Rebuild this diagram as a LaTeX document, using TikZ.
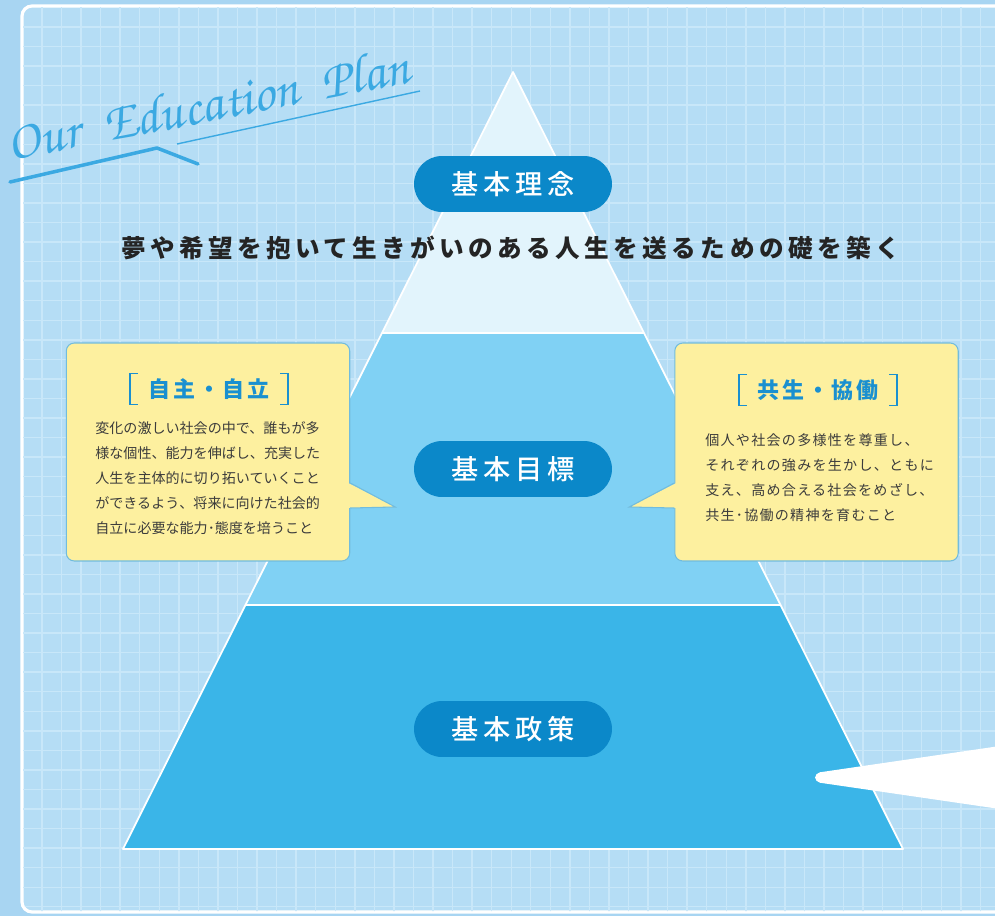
\documentclass[tikz,border=0pt]{standalone}
\usepackage{fontspec}
\setmainfont{Noto Sans CJK JP}
\newfontfamily\jpmed{Noto Sans CJK JP Medium}
\newfontfamily\handfont{texgyrechorus-mediumitalic.otf}
\usetikzlibrary{positioning,calc}

\definecolor{outerbg}{HTML}{A8D5F2}
\definecolor{panelbg}{HTML}{B5DDF5}
\definecolor{gridcol}{HTML}{C8E7F9}
\definecolor{tierone}{HTML}{E2F4FC}
\definecolor{tiertwo}{HTML}{80D1F4}
\definecolor{tierthree}{HTML}{3AB5E8}
\definecolor{pillblue}{HTML}{0B88C9}
\definecolor{notefill}{HTML}{FDF09F}
\definecolor{noteline}{HTML}{72BCDD}
\definecolor{notetitle}{HTML}{1A90D0}
\definecolor{notetext}{HTML}{3C3C3C}
\definecolor{scriptblue}{HTML}{3BA9E2}

\tikzstyle{panel} = [fill=panelbg, draw=white, line width=1.8pt, rounded corners=0.2cm]
\tikzstyle{gridline} = [gridcol, line width=0.8pt]
\tikzstyle{edge} = [white, line width=1pt, line join=round]
\tikzstyle{pill} = [rectangle, rounded corners=0.56cm, minimum width=3.96cm, minimum height=1.12cm, inner sep=0pt, fill=pillblue, text=white, font=\jpmed\fontsize{15.5}{17}\selectfont\addfontfeature{LetterSpace=17}]
\tikzstyle{motto} = [inner sep=0pt, text=black!86, font=\fontsize{14}{16}\selectfont\bfseries\addfontfeature{LetterSpace=18}]
\tikzstyle{note} = [rectangle, rounded corners=0.16cm, minimum width=5.67cm, minimum height=4.36cm, fill=notefill, draw=noteline, line width=0.6pt]
\tikzstyle{notehead} = [inner sep=0pt, text=notetitle, font=\fontsize{12.5}{14}\selectfont\bfseries\addfontfeature{LetterSpace=12}]
\tikzstyle{notebody} = [inner sep=0pt, align=left, text=notetext, font=\fontsize{8}{14.2}\selectfont]
\tikzstyle{bracket} = [notetitle, line width=0.9pt]

\begin{document}
\begin{tikzpicture}[x=0.02cm, y=-0.02cm, node distance=0.5cm]
    \useasboundingbox (0,0) rectangle (995,916);

    % Background
    \fill[outerbg] (0,0) rectangle (995,916);
    \draw[panel] (22,6) rectangle (1030,912);
    \begin{scope}
        \clip[rounded corners=0.2cm] (23,7) rectangle (1030,911);
        \foreach \k in {0,...,49} \draw[gridline] ({42+19.55*\k},0) -- ({42+19.55*\k},916);
        \foreach \k in {0,...,46} \draw[gridline] (0,{27+19.55*\k}) -- (995,{27+19.55*\k});
    \end{scope}

    % Pyramid
    \coordinate (apex) at (513,72);
    \coordinate (bl) at (123,849);
    \coordinate (br) at (903,849);
    \coordinate (t1l) at ($(apex)!0.336!(bl)$);
    \coordinate (t1r) at ($(apex)!0.336!(br)$);
    \coordinate (t2l) at ($(apex)!0.686!(bl)$);
    \coordinate (t2r) at ($(apex)!0.686!(br)$);
    \fill[tierone] (apex) -- (t1r) -- (t1l) -- cycle;
    \fill[tiertwo] (t1l) -- (t1r) -- (t2r) -- (t2l) -- cycle;
    \fill[tierthree] (t2l) -- (t2r) -- (br) -- (bl) -- cycle;
    \draw[edge] (apex) -- (bl) -- (br) -- cycle;
    \draw[edge] (t1l) -- (t1r);
    \draw[edge] (t2l) -- (t2r);

    % Callouts
    \node (callL) [note] at (208,452) {};
    \node (callR) [note] at (816.5,452) {};
    \fill[notefill] ($(callL.east)+(-2,31)$) -- ($(callL.east)+(45,55)$) -- ($(callL.east)+(-2,56)$) -- cycle;
    \draw[noteline, line width=0.6pt] ($(callL.east)+(0,31)$) -- ($(callL.east)+(45,55)$) -- ($(callL.east)+(0,56)$);
    \fill[notefill] ($(callR.west)+(2,31)$) -- ($(callR.west)+(-45,55)$) -- ($(callR.west)+(2,56)$) -- cycle;
    \draw[noteline, line width=0.6pt] ($(callR.west)+(0,31)$) -- ($(callR.west)+(-45,55)$) -- ($(callR.west)+(0,56)$);

    \node (jishu) [notehead] at (209,389) {自主・自立};
    \node (kyosei) [notehead] at (818,390) {共生・協働};
    \foreach \t in {jishu, kyosei} {
        \draw[bracket] ($(\t)+(-71,-15.5)$) -- ++(-8,0) -- ++(0,31) -- ++(8,0);
        \draw[bracket] ($(\t)+(71,-15.5)$) -- ++(8,0) -- ++(0,31) -- ++(-8,0);
    }
    \node (jishuText) [notebody, anchor=north west] at (95,421) {変化の激しい社会の中で、誰もが多\\様な個性、能力を伸ばし、充実した\\人生を主体的に切り拓いていくこと\\ができるよう、将来に向けた社会的\\自立に必要な能力･態度を培うこと};
    \node (kyoseiText) [notebody, anchor=north west, font=\fontsize{8}{14.2}\selectfont\addfontfeature{LetterSpace=9}] at (705,433) {個人や社会の多様性を尊重し、\\それぞれの強みを生かし、ともに\\支え、高め合える社会をめざし、\\共生･協働の精神を育むこと};

    % Tier labels
    \node (rinen) [pill] at (513,184) {基本理念};
    \node (mottoText) [motto, below=0.47cm of rinen, xshift=-0.05cm] {夢や希望を抱いて生きがいのある人生を送るための礎を築く};
    \node (mokuhyo) [pill] at (513,469) {基本目標};
    \node (seisaku) [pill] at (513,729) {基本政策};

    % Title script
    \node (plan) [text=scriptblue, rotate=11, font=\handfont\fontsize{30.5}{34}\selectfont] at (208,104) {Our\hspace{0.45em}Education\hspace{0.45em}Plan};
    \draw[scriptblue, line width=2pt, line cap=round, line join=round] (10,182) -- (157,148) -- (198,164);
    \draw[scriptblue, line width=0.8pt] (177,144) -- (420,91);

    % Light wedge
    \fill[white, rounded corners=0.1cm] (1000,746) -- (815,773) -- (815,782) -- (1000,809) -- cycle;
\end{tikzpicture}
\end{document}
